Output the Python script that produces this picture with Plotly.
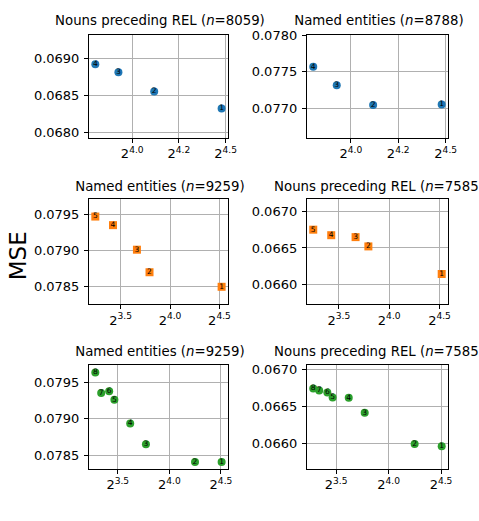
import math
import plotly.graph_objects as go

# ---- data ---------------------------------------------------------------
labels_4 = ["1", "2", "3", "4"]
x_4 = [22.30, 17.36, 15.20, 13.95]
nouns_rel_4 = [0.06832, 0.068551, 0.068813, 0.06892]
named_ent_4 = [0.077054, 0.077046, 0.077316, 0.077571]

labels_5 = ["1", "2", "3", "4", "5"]
x_5 = [22.97, 13.86, 12.69, 10.73, 9.48]
named_ent_5 = [0.07849, 0.078692, 0.079005, 0.079346, 0.079465]
nouns_rel_5 = [0.066147, 0.066521, 0.066647, 0.066673, 0.066748]

labels_8 = ["1", "2", "3", "4", "5", "6", "7", "8"]
x_8 = [22.73, 19.01, 13.67, 12.30, 11.06, 10.68, 10.12, 9.73]
named_ent_8 = [0.078406, 0.078406, 0.078648, 0.078933, 0.079258, 0.079375, 0.079352, 0.07963]
nouns_rel_8 = [0.065956, 0.065987, 0.066415, 0.066618, 0.066624, 0.066691, 0.066718, 0.066745]

titles = [
    "Nouns preceding REL (<i>n</i>=8059)", "Named entities (<i>n</i>=8788)",
    "Named entities (<i>n</i>=9259)", "Nouns preceding REL (<i>n</i>=7585)",
    "Named entities (<i>n</i>=9259)", "Nouns preceding REL (<i>n</i>=7585)",
]
y_limits = [
    (0.067924, 0.069324), (0.07660, 0.07801),
    (0.07825, 0.079714), (0.065739, 0.067169),
    (0.078312, 0.079738), (0.065647, 0.067071),
]
tick_exps_row = [[4.0, 4.25, 4.5], [3.5, 4.0, 4.5], [3.5, 4.0, 4.5]]

BLUE, ORANGE, GREEN = "#1f77b4", "#ff7f0e", "#2ca02c"
panels = [
    (x_4, nouns_rel_4, labels_4, BLUE, "circle"),
    (x_4, named_ent_4, labels_4, BLUE, "circle"),
    (x_5, named_ent_5, labels_5, ORANGE, "square"),
    (x_5, nouns_rel_5, labels_5, ORANGE, "square"),
    (x_8, named_ent_8, labels_8, GREEN, "circle"),
    (x_8, nouns_rel_8, labels_8, GREEN, "circle"),
]

# ---- layout geometry (pixels) -------------------------------------------
W, H = 479, 521
col_px = [(90.7, 232.3), (312.7, 456.7)]
row_px = [(28, 133), (195, 302.3), (364, 470)]
title_mid_px = [15, 184, 352]
FONT = "DejaVu Sans"

fig = go.Figure()
layout = dict(
    width=W, height=H, margin=dict(l=0, r=0, t=0, b=0),
    paper_bgcolor="white", plot_bgcolor="rgba(0,0,0,0)", showlegend=False,
    font=dict(family=FONT, size=13, color="black"),
)

title_x, title_y = [], []
for i, (xs, ys, labs, color, symbol) in enumerate(panels):
    r, c = divmod(i, 2)
    n = i + 1
    xa = "xaxis" if n == 1 else f"xaxis{n}"
    ya = "yaxis" if n == 1 else f"yaxis{n}"
    xref = "x" if n == 1 else f"x{n}"
    yref = "y" if n == 1 else f"y{n}"

    fig.add_trace(go.Scatter(
        x=xs, y=ys, text=labs, mode="markers+text",
        textposition="middle center",
        textfont=dict(family=FONT, size=7.5, color="black"),
        marker=dict(color=color, size=8, symbol=symbol, line=dict(width=0)),
        xaxis=xref, yaxis=yref, cliponaxis=False,
    ))

    # log2 extent of the data with a 5% margin on each side
    lx = [math.log2(v) for v in xs]
    lo, hi = min(lx), max(lx)
    pad = 0.05 * (hi - lo)
    lo2, hi2 = lo - pad, hi + pad

    exps = tick_exps_row[r]
    x0, x1 = col_px[c]
    y0, y1 = row_px[r]
    axis_common = dict(
        showline=True, linecolor="black", linewidth=1, mirror=True,
        ticks="outside", ticklen=4, tickwidth=1, tickcolor="black",
        showgrid=True, gridcolor="#b0b0b0", gridwidth=0.8, zeroline=False,
        tickfont=dict(family=FONT, size=13, color="black"),
    )
    layout[xa] = dict(
        axis_common, type="log", anchor=yref,
        domain=[x0 / W, x1 / W],
        range=[lo2 * math.log10(2), hi2 * math.log10(2)],
        tickmode="array",
        tickvals=[2 ** e for e in exps],
        ticktext=[f"2<sup>{e:.1f}</sup>" for e in exps],
    )
    layout[ya] = dict(
        axis_common, anchor=xref,
        domain=[1 - y1 / H, 1 - y0 / H],
        range=list(y_limits[i]), dtick=0.0005, tick0=0, tickformat=".4f",
        ticklabelstandoff=2,
    )
    title_x.append((x0 + x1) / 2 + 1.5)
    title_y.append(title_mid_px[r])

# Panel titles live on a full-figure overlay in pixel units, so a title that
# is wider than its column simply runs off the right edge of the figure.
fig.add_trace(go.Scatter(
    x=title_x, y=title_y, text=titles, mode="text",
    textposition="middle center",
    textfont=dict(family=FONT, size=13.3, color="black"),
    xaxis="x7", yaxis="y7", hoverinfo="skip", cliponaxis=False,
))
layout["xaxis7"] = dict(domain=[0, 1], range=[0, W], visible=False,
                        anchor="y7", fixedrange=True)
layout["yaxis7"] = dict(domain=[0, 1], range=[H, 0], visible=False,
                        anchor="x7", fixedrange=True)

layout["annotations"] = [dict(
    text="MSE", xref="paper", yref="paper", x=18 / W, y=1 - 253 / H,
    xanchor="center", yanchor="middle", textangle=-90, showarrow=False,
    font=dict(family=FONT, size=23, color="black"),
)]
fig.update_layout(**layout)
fig.write_html("out.html")
